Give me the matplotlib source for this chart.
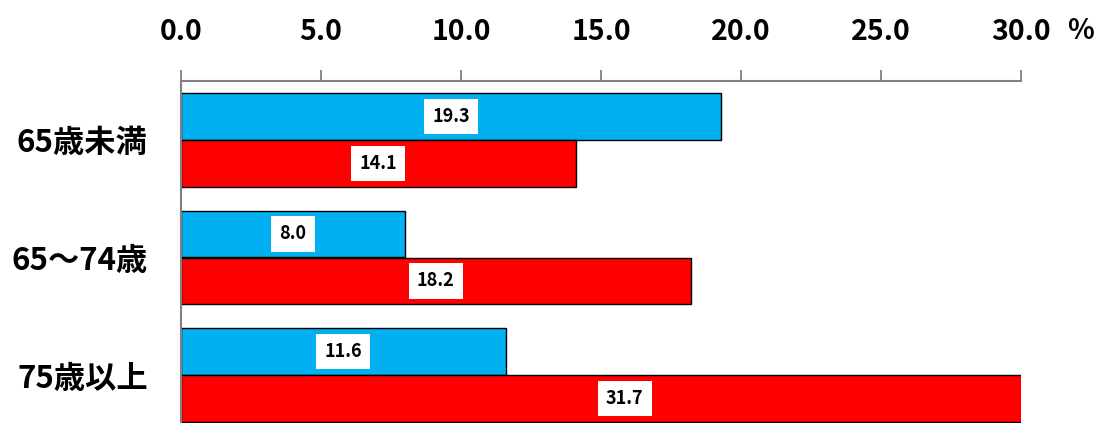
import matplotlib
matplotlib.use("Agg")
import matplotlib.pyplot as plt
import numpy as np

plt.rcParams['font.family'] = ['Noto Sans CJK JP', 'DejaVu Sans']

categories = ["65歳未満", "65～74歳", "75歳以上"]
series_blue = [19.3, 8.0, 11.6]
series_red = [14.1, 18.2, 31.7]
xticks = [0, 5, 10, 15, 20, 25, 30]

W, H = 1104, 423
fig = plt.figure(figsize=(W / 100, H / 100), dpi=100)
top_px = 81
ax = fig.add_axes([181 / W, 0, 840 / W, (H - top_px) / H])

y = np.arange(len(categories))
off = 0.2
h = 0.395
blue_c = "#00B0F0"
red_c = "#FF0000"

ax.barh(y - off, series_blue, height=h, color=blue_c, edgecolor="black", linewidth=1.0)
ax.barh(y + off, series_red, height=h, color=red_c, edgecolor="black", linewidth=1.0)

ax.set_xlim(0, 30)
ax.set_ylim(2.408, -0.5)

box = dict(boxstyle="square,pad=0.45", facecolor="white", edgecolor="none")
for yy, vals in ((y - off, series_blue), (y + off, series_red)):
    for yi, v in zip(yy, vals):
        ax.text(v / 2, yi, f"{v:.1f}", ha="center", va="center",
                fontsize=13, fontweight="bold", bbox=box, clip_on=False)

ax.xaxis.tick_top()
ax.set_xticks(xticks)
ax.set_xticklabels([f"{t:.1f}" for t in xticks], fontsize=20.5, fontweight="bold")
ax.tick_params(axis="x", direction="out", length=8, width=1.3, color="#808080", pad=17)
ax.set_yticks(y)
ax.set_yticklabels(categories, fontsize=22.5, fontweight="bold")
ax.tick_params(axis="y", length=0, pad=24)

for s in ("right", "bottom"):
    ax.spines[s].set_visible(False)
for s in ("top", "left"):
    ax.spines[s].set_color("#808080")
    ax.spines[s].set_linewidth(1.5)

fig.text(1080 / W, 1 - 31 / H, "%", ha="center", va="center", fontsize=20, fontweight="bold")

fig.savefig("out.png", dpi=100)
